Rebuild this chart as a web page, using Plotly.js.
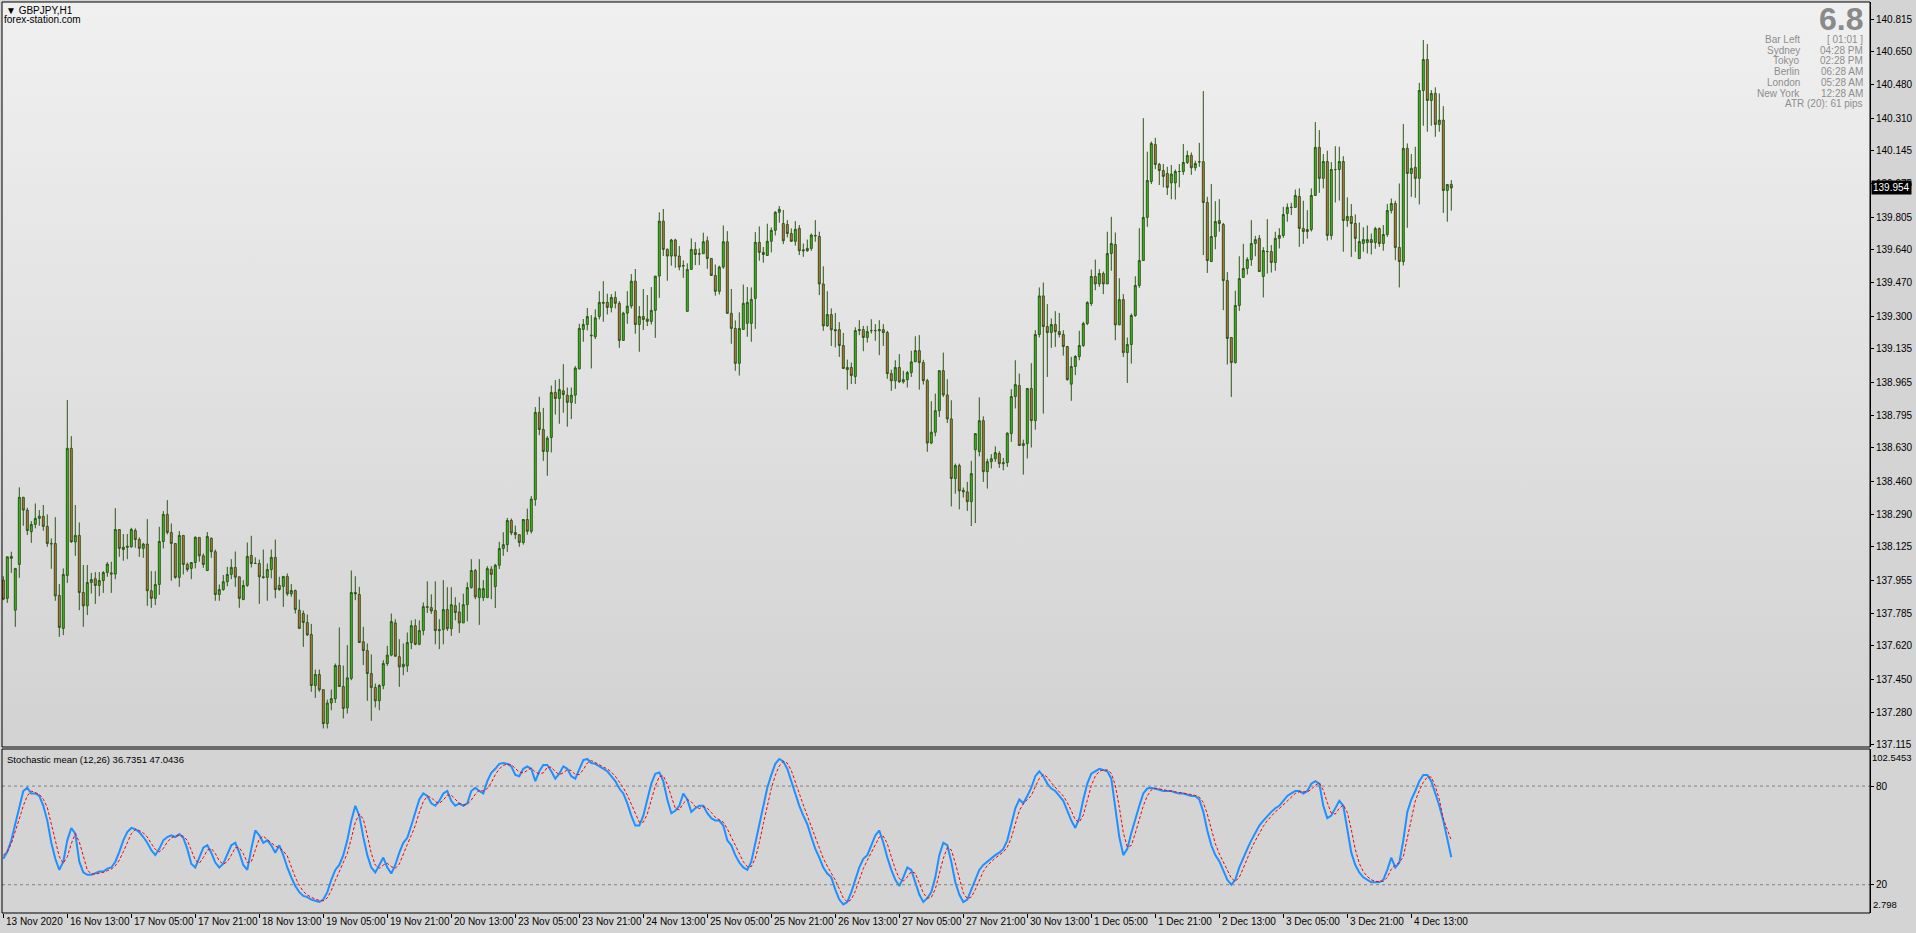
<!DOCTYPE html>
<html>
<head>
<meta charset="utf-8">
<script src="https://cdn.plot.ly/plotly-3.0.1.min.js"></script>
<style>
html,body{margin:0;padding:0;background:#d4d4d4;width:1916px;height:933px;overflow:hidden;}
#bg{position:absolute;left:2px;top:2px;width:1868px;height:745px;background:linear-gradient(#f0f0f0,#d2d2d2);}
#chart{position:absolute;left:0;top:0;width:1916px;height:933px;}
</style>
</head>
<body>
<div id="bg"></div>
<div id="chart"></div>
<script>
// ---- data (GBPJPY H1, one value per bar) ----
const opens = [
137.955,137.862,138.066,137.802,138.035,138.377,138.312,138.202,138.239,138.270,
138.280,138.229,138.142,138.142,137.877,137.709,137.979,138.627,138.150,138.183,
137.892,137.824,137.943,137.962,137.928,137.953,137.994,137.992,137.986,138.213,
138.123,138.122,138.125,138.208,138.162,138.117,138.139,137.901,137.862,137.933,
138.152,138.290,138.198,138.142,137.969,138.183,138.035,138.015,138.045,138.173,
138.079,138.004,138.168,138.100,137.882,137.907,137.947,137.984,138.020,137.972,
137.856,137.928,138.081,138.040,138.040,137.972,137.969,138.009,138.071,137.928,
137.923,137.974,137.885,137.902,137.802,137.785,137.739,137.678,137.418,137.474,
137.397,137.224,137.329,137.351,137.520,137.413,137.304,137.454,137.892,137.882,
137.641,137.596,137.479,137.408,137.340,137.418,137.530,137.573,137.737,137.565,
137.513,137.518,137.637,137.723,137.628,137.698,137.820,137.815,137.800,137.703,
137.703,137.805,137.708,137.825,137.793,137.737,137.830,137.917,138.004,137.866,
137.866,137.866,138.011,137.922,138.031,138.116,138.136,138.259,138.198,138.187,
138.147,138.264,138.204,138.366,138.810,138.723,138.611,138.682,138.912,138.881,
138.920,138.898,138.861,138.898,139.032,139.233,139.258,139.204,139.196,139.299,
139.371,139.371,139.345,139.396,139.366,139.177,139.316,139.352,139.479,139.258,
139.299,139.286,139.274,139.330,139.505,139.785,139.641,139.607,139.689,139.607,
139.556,139.325,139.539,139.641,139.619,139.619,139.685,139.595,139.508,139.427,
139.551,139.680,139.315,139.238,139.060,139.233,139.264,139.264,139.391,139.677,
139.626,139.610,139.682,139.738,139.830,139.773,139.768,139.722,139.682,139.748,
139.639,139.634,139.646,139.712,139.707,139.465,139.251,139.309,139.232,139.232,
139.151,139.039,139.039,138.993,139.227,139.232,139.192,139.227,139.227,139.226,
139.232,139.217,139.008,138.971,139.039,138.966,138.977,139.013,139.068,139.125,
139.064,138.972,138.654,138.709,138.819,139.023,138.899,138.777,138.473,138.539,
138.413,138.405,138.355,138.620,138.610,138.768,138.508,138.559,138.574,138.600,
138.554,138.554,138.702,138.891,138.947,138.641,138.651,138.932,138.768,139.207,
139.404,139.248,139.217,139.258,139.222,139.207,139.146,138.954,139.044,139.095,
139.151,139.263,139.365,139.503,139.465,139.518,139.465,139.620,139.666,139.256,
139.385,139.115,139.156,139.304,139.457,139.584,139.804,139.987,140.176,140.074,
140.043,140.028,139.980,139.980,140.038,140.038,140.084,140.120,140.057,140.086,
140.088,139.880,139.579,139.707,139.788,139.768,139.482,139.192,139.064,139.355,
139.498,139.544,139.589,139.671,139.697,139.503,139.630,139.630,139.574,139.697,
139.712,139.824,139.855,139.855,139.911,139.748,139.742,139.742,139.916,140.161,
140.003,140.089,139.712,140.048,140.048,140.089,139.788,139.809,139.773,139.594,
139.671,139.676,139.691,139.676,139.747,139.671,139.717,139.839,139.875,139.651,
139.579,140.156,140.028,140.059,140.003,140.451,140.609,140.400,140.436,140.278,
140.300,139.941,139.972];
const highs = [
137.975,138.074,138.100,138.015,138.428,138.380,138.324,138.256,138.346,138.312,
138.338,138.290,138.168,138.276,137.935,138.015,138.873,138.689,138.338,138.249,
138.032,138.032,137.992,137.996,137.996,138.001,138.047,138.049,138.322,138.213,
138.190,138.190,138.222,138.219,138.173,138.145,138.266,138.001,138.001,138.227,
138.307,138.363,138.244,138.142,138.205,138.183,138.045,138.045,138.179,138.173,
138.091,138.200,138.173,138.111,137.933,137.981,138.023,138.062,138.101,137.972,
137.955,138.147,138.181,138.071,138.060,138.111,138.040,138.111,138.162,137.972,
137.974,137.989,137.935,137.907,137.856,137.800,137.780,137.732,137.499,137.499,
137.397,137.346,137.397,137.530,137.714,137.520,137.624,138.004,137.975,137.921,
137.717,137.632,137.576,137.428,137.425,137.547,137.620,137.785,137.756,137.654,
137.632,137.688,137.750,137.756,137.750,137.841,137.949,137.883,137.949,137.756,
137.955,137.919,137.919,137.868,137.841,137.886,137.944,138.062,138.012,138.062,
137.955,138.026,138.026,138.038,138.150,138.199,138.272,138.269,138.233,138.187,
138.264,138.320,138.383,138.837,138.890,138.833,138.689,138.947,138.975,138.981,
139.056,138.937,138.937,139.046,139.262,139.286,139.342,139.306,139.335,139.428,
139.479,139.415,139.413,139.427,139.377,139.323,139.428,139.515,139.541,139.352,
139.439,139.408,139.449,139.505,139.830,139.847,139.646,139.695,139.695,139.658,
139.585,139.570,139.697,139.678,139.646,139.726,139.707,139.595,139.564,139.558,
139.763,139.734,139.439,139.279,139.320,139.462,139.449,139.447,139.729,139.758,
139.653,139.772,139.753,139.836,139.862,139.842,139.790,139.748,139.785,139.765,
139.671,139.691,139.722,139.790,139.731,139.555,139.428,139.340,139.317,139.270,
139.215,139.079,139.064,139.244,139.280,139.251,139.251,139.285,139.260,139.280,
139.260,139.226,139.028,139.076,139.107,139.022,139.022,139.124,139.198,139.204,
139.078,138.981,138.867,138.906,139.023,139.115,138.979,138.872,138.549,138.549,
138.427,138.456,138.563,138.702,138.887,138.790,138.574,138.597,138.637,138.612,
138.578,138.709,138.928,139.076,139.008,138.671,138.932,139.061,139.229,139.447,
139.472,139.362,139.289,139.326,139.317,139.229,139.149,139.093,139.102,139.226,
139.272,139.377,139.538,139.589,139.540,139.528,139.731,139.807,139.727,139.494,
139.413,139.192,139.314,139.504,139.749,140.310,140.139,140.191,140.210,140.082,
140.076,140.062,140.071,140.048,140.076,140.178,140.144,140.135,140.093,140.184,
140.448,139.909,139.974,139.887,139.897,139.776,139.525,139.192,139.430,139.606,
139.669,139.601,139.790,139.710,139.714,139.652,139.795,139.663,139.731,139.749,
139.858,139.875,139.878,139.946,139.952,139.889,139.841,139.952,140.290,140.249,
140.127,140.144,140.086,140.167,140.164,140.116,139.906,139.872,139.819,139.778,
139.754,139.763,139.722,139.756,139.753,139.765,139.872,139.900,139.889,139.977,
140.280,140.181,140.127,140.164,140.490,140.708,140.688,140.453,140.467,140.436,
140.371,139.972,139.994];
const lows = [
137.853,137.839,137.992,137.717,137.967,138.232,138.185,138.145,138.219,138.232,
138.207,138.125,138.013,137.850,137.666,137.675,137.941,138.145,138.079,137.802,
137.717,137.777,137.887,137.834,137.873,137.890,137.972,137.890,137.960,138.074,
138.054,138.062,138.120,138.120,138.074,138.069,137.824,137.814,137.828,137.880,
138.117,138.188,137.952,137.962,137.921,137.984,137.998,137.960,138.015,138.049,
138.018,138.001,138.069,137.850,137.850,137.901,137.924,137.960,137.921,137.814,
137.853,137.921,138.020,138.037,137.834,137.962,137.850,137.964,137.863,137.901,
137.819,137.875,137.870,137.785,137.709,137.615,137.671,137.386,137.355,137.386,
137.199,137.199,137.292,137.329,137.411,137.250,137.275,137.445,137.853,137.637,
137.522,137.340,137.238,137.306,137.292,137.399,137.518,137.567,137.567,137.411,
137.470,137.487,137.603,137.623,137.623,137.674,137.788,137.783,137.628,137.603,
137.628,137.696,137.671,137.750,137.686,137.737,137.745,137.912,137.858,137.727,
137.849,137.866,137.858,137.813,138.012,138.079,138.099,138.184,138.164,138.125,
138.136,138.187,138.193,138.334,138.694,138.563,138.487,138.606,138.799,138.752,
138.808,138.737,138.776,138.854,139.029,139.170,139.228,139.034,139.184,139.284,
139.272,139.309,139.320,139.340,139.139,139.177,139.262,139.340,139.211,139.119,
139.230,139.250,139.258,139.190,139.394,139.607,139.481,139.558,139.547,139.534,
139.496,139.325,139.539,139.561,139.561,139.619,139.542,139.508,139.405,139.411,
139.542,139.313,139.160,139.022,138.998,139.233,139.196,139.170,139.236,139.583,
139.573,139.610,139.626,139.712,139.777,139.668,139.702,139.680,139.660,139.612,
139.603,139.629,139.634,139.680,139.408,139.226,139.246,139.148,139.141,139.093,
139.032,138.926,138.955,138.955,139.204,139.122,139.166,139.212,139.175,139.102,
139.149,138.981,138.920,138.930,138.960,138.957,138.937,138.991,139.068,138.926,
138.952,138.609,138.648,138.688,138.787,138.889,138.756,138.331,138.396,138.316,
138.376,138.308,138.231,138.246,138.586,138.456,138.422,138.524,138.558,138.527,
138.515,138.532,138.660,138.830,138.641,138.493,138.575,138.631,138.722,139.192,
138.804,138.991,139.139,139.144,139.192,139.100,138.972,138.869,139.000,139.076,
139.144,139.255,139.353,139.433,139.450,139.413,139.465,139.532,139.178,139.256,
139.093,138.960,139.059,139.297,139.445,139.584,139.756,139.974,140.050,139.969,
139.957,139.918,139.897,139.895,139.957,140.021,140.076,140.021,140.042,140.062,
139.612,139.521,139.579,139.642,139.731,139.331,139.054,138.889,139.059,139.328,
139.498,139.513,139.557,139.606,139.528,139.396,139.518,139.523,139.532,139.646,
139.700,139.782,139.816,139.855,139.654,139.669,139.696,139.732,139.914,139.929,
139.952,139.686,139.691,139.880,139.890,139.629,139.756,139.603,139.629,139.594,
139.629,139.620,139.615,139.644,139.654,139.634,139.705,139.824,139.586,139.447,
139.559,139.751,139.909,139.904,139.870,140.271,140.241,140.271,140.215,140.241,
139.827,139.782,139.838];
const closes = [
137.858,138.074,138.076,138.015,138.377,138.312,138.208,138.239,138.270,138.281,
138.229,138.142,138.140,137.875,137.714,137.984,138.627,138.150,138.183,137.892,
137.824,137.943,137.958,137.928,137.953,137.994,138.037,137.986,138.213,138.117,
138.111,138.128,138.213,138.162,138.117,138.139,137.901,137.862,137.933,138.152,
138.290,138.198,138.142,137.969,138.183,138.035,138.009,138.045,138.173,138.079,
138.035,138.178,138.100,137.882,137.907,137.947,137.984,138.020,137.970,137.862,
137.928,138.076,138.040,138.040,137.972,137.969,138.009,138.071,137.907,137.907,
137.974,137.885,137.902,137.805,137.709,137.739,137.676,137.418,137.474,137.396,
137.224,137.329,137.351,137.520,137.413,137.301,137.457,137.892,137.885,137.637,
137.596,137.479,137.408,137.340,137.418,137.530,137.573,137.744,137.567,137.513,
137.526,137.637,137.723,137.628,137.698,137.820,137.817,137.798,137.698,137.698,
137.805,137.708,137.830,137.790,137.737,137.830,137.917,138.004,137.870,137.912,
137.912,138.014,137.984,138.031,138.116,138.136,138.259,138.196,138.187,138.147,
138.264,138.204,138.368,138.810,138.723,138.611,138.679,138.912,138.881,138.927,
138.901,138.861,138.898,139.036,139.238,139.258,139.299,139.201,139.292,139.371,
139.367,139.345,139.396,139.366,139.177,139.316,139.352,139.479,139.258,139.299,
139.284,139.274,139.330,139.505,139.785,139.641,139.607,139.689,139.607,139.551,
139.558,139.539,139.641,139.615,139.617,139.680,139.595,139.508,139.427,139.551,
139.680,139.315,139.238,139.060,139.238,139.366,139.371,139.386,139.677,139.626,
139.615,139.682,139.738,139.830,139.845,139.685,139.722,139.682,139.743,139.634,
139.634,139.646,139.714,139.710,139.465,139.251,139.309,139.231,139.226,139.151,
139.034,139.028,138.998,139.227,139.232,139.192,139.222,139.227,139.227,139.232,
139.217,139.008,138.971,139.039,138.966,138.977,139.013,139.068,139.125,139.064,
138.972,138.654,138.709,138.819,139.023,138.899,138.777,138.473,138.539,138.410,
138.405,138.355,138.498,138.702,138.768,138.508,138.559,138.574,138.605,138.549,
138.549,138.704,138.891,138.952,138.641,138.651,138.932,138.768,139.207,139.404,
139.248,139.217,139.258,139.222,139.207,139.146,138.977,139.044,139.095,139.151,
139.263,139.370,139.503,139.465,139.518,139.465,139.620,139.671,139.256,139.385,
139.115,139.156,139.304,139.457,139.584,139.804,139.992,140.181,140.074,140.043,
140.013,139.957,140.025,140.038,140.038,140.084,140.120,140.057,140.079,140.088,
139.880,139.584,139.707,139.783,139.773,139.482,139.187,139.064,139.355,139.492,
139.544,139.589,139.671,139.691,139.528,139.635,139.630,139.574,139.697,139.712,
139.819,139.855,139.855,139.916,139.748,139.732,139.732,139.916,140.161,140.003,
140.089,139.712,140.048,140.048,140.089,139.788,139.809,139.773,139.697,139.681,
139.691,139.691,139.676,139.747,139.671,139.717,139.839,139.875,139.651,139.579,
140.156,140.028,140.054,140.003,140.451,140.609,140.400,140.436,140.278,140.300,
139.941,139.972,139.954];

// Stochastic mean (12,26): one value per bar, main line and signal line
const stochMain = [
35.8,40,47,57,68,77,79,75.5,75.5,74,
68,59,45.5,35.8,29,34,47,54.5,51,34,
27.5,26,26,26.8,28,28,29.8,30.5,34,40,
47,52,54.5,53.8,52,49,45.5,41,38,41.8,
47,49,50,49,50.8,48.5,41.8,32.8,30.5,36.5,
42.5,44,39.5,33.5,30.5,32.8,38,44,45.5,39.5,
32,29,41.8,53,50,45.5,47,44,39.5,44,
38,30.5,24.5,19.2,15.5,13.2,12.5,11,10.2,9.5,
11,15.5,23,29,32,38,47,59,68,62,
49,38,30.5,27.5,32,36.5,30.5,26.8,32,39.5,
45.5,48.5,56,64,71.8,75.5,74,69.5,68,71,
75.5,77,71,68,69.5,68,69.5,77,79,77,
75.5,83,88,90.5,93.5,94,93.5,92,86.8,86,
90.5,92,90.5,83,89,92.8,92.8,89,84.5,87.5,
92,90.5,86,84.5,90.5,95.8,96.5,94,93.5,92,
90.5,89,86,83,78.5,75.5,69.5,62,56,56,
62,71,81.5,87.5,88.3,83,71.8,63.5,65,68,
75.5,71.8,64.3,66.5,68,68,63.5,60.5,59,59,
56,47,44,38,33.5,30.5,29,34,45.5,56.8,
69.5,79,86.8,93.5,96.5,95,90.5,83,75.5,68,
62,56.8,49,41.8,36.5,30.5,26.8,24.5,17,11,
8,9.5,15.5,23,30.5,35.8,38,44,50,53,
45.5,36.5,29,23,19.2,24.5,30.5,29,21.5,14,
9.5,11.8,15.5,24.5,38,45.5,44,34,21.5,14,
9.5,11,17,23,29,32,34,36.5,38,39.5,
41.8,47,56.8,66.5,71.8,69.5,74,79,86,89,
86,81.5,78.5,77,74,71,65,59,54.5,60.5,
71.8,81.5,87.5,89,90.5,89.8,89,84.5,68,49,
38,41.8,51.5,60.5,68,75.5,78.5,79,78.5,77.8,
77,77,77,76,75.5,75.5,74.8,74,74,71.8,
64.3,53,44,38,34.3,29,23,20,23,30.5,
36.5,41.8,47,51.5,56,59,62,64.3,66.5,68,
71,74,75.5,77,77,75.5,77,81.5,83,81.5,
68,60.5,62,66.5,71,68,53,39.5,32,27.5,
24.5,23,21.5,21.5,21.5,23,29,36.5,30.5,33.5,
47,64.3,71.8,77,83,86.8,86.8,83,75.5,68,
59,47,36.7351];
const stochSignal = [
38,40,45,52,60,68,74,77,76,75,
72,67,57,46,37,33,37,45,51,46,
37,29,26.5,26.5,27,27.5,28.5,29.5,31.5,35,
40,46,51,53.5,53,51.5,49,45,41.5,40,
42,46,48.5,49.5,50,49.5,47,41,35,33,
36.5,41,42,39,34.5,32.5,34,38,42.5,42.5,
39,33.5,34,41,48,49.5,47.5,45.5,43.5,42.5,
40.5,37.5,31,24.5,19.5,16,13.7,12.2,11.2,10.5,
10.2,12,16.5,22.5,28,33,39,48,58,63,
60,50,39,32,30,32,33,31,30,32.5,
39,44.5,50,56,64,70.5,73.8,73,70.5,69.5,
71.5,74.5,74.5,72,69.5,68.5,69,71.5,75,77.5,
77,78.5,82,87,90.5,92.5,93.5,93,91,88.5,
88,89.5,91,88.5,87.5,88,91.5,91.5,88.8,87,
88,90,89.5,87,87,90,94,95.5,94.5,93,
91.5,90.5,88.5,86,82.5,79,74.5,69,62.5,58,
58,63,71.5,80,85.8,86.3,81,73,66.5,65.5,
69.5,71.8,70.5,67.5,66.3,67.5,66.5,64,61,59.5,
58,54,49,43,38.5,34,31,31,36,45.5,
57,68.5,78.5,86.5,92.3,95,94,89.5,83,75.5,
68.5,62,56,49,42.5,36,31.3,27.3,22.8,17.5,
12,9.5,11,16,23,29.8,34.8,39.3,44,49,
49.5,45,37,29.5,23.7,22.2,24.7,28,27,21.5,
15,11.8,12.3,17.3,26,36,42.5,41.2,33.2,23.2,
15,11.5,12.5,17,23,28,31.7,34.2,36.2,38,
39.8,42.8,48.5,56.8,65,69.3,71.8,74.2,79.7,84.7,
87,85.5,82,79,76.5,74,70,65,59.5,58,
62.3,71.3,80.3,86,89,89.8,89.8,87.8,80.5,67.2,
51.7,43,43.8,51.3,60,68,74,77.7,78.7,78.4,
77.8,77.3,77,76.7,76.2,75.7,75.3,74.8,74.3,73.3,
70,63,53.8,45,38.8,33.8,28.8,24,22,24.5,
30,36.3,41.8,46.8,51.5,55.5,59,61.8,64.3,66.3,
68.5,71,73.5,75.5,76.5,76.5,76.5,78,80.5,82,
77.5,70,63.5,63,66.5,68.5,64,53.5,41.5,33,
28,25,23,22,22,22,24.5,29.5,32,33.5,
37,48,61,71,77.3,82.3,85.5,85.5,80,72,
60,53,47.0436];

const priceTicks = [137.115,137.280,137.450,137.620,137.785,137.955,138.125,138.290,138.460,138.630,138.795,138.965,139.135,139.300,139.470,139.640,139.805,139.975,140.145,140.310,140.480,140.650,140.815];
const timeTickIdx = [0,16,32,48,64,80,96,112,128,144,160,176,192,208,224,240,256,272,288,304,320,336,352];
const timeTickText = ["13 Nov 2020","16 Nov 13:00","17 Nov 05:00","17 Nov 21:00","18 Nov 13:00","19 Nov 05:00","19 Nov 21:00","20 Nov 13:00","23 Nov 05:00","23 Nov 21:00","24 Nov 13:00","25 Nov 05:00","25 Nov 21:00","26 Nov 13:00","27 Nov 05:00","27 Nov 21:00","30 Nov 13:00","1 Dec 05:00","1 Dec 21:00","2 Dec 13:00","3 Dec 05:00","3 Dec 21:00","4 Dec 13:00"];
const infoLabels = ["Bar Left","Sydney","Tokyo","Berlin","London","New York"];
const infoValues = ["[ 01:01 ]","04:28 PM","02:28 PM","06:28 AM","05:28 AM","12:28 AM"];
const symbolText = "GBPJPY,H1";
const spreadText = "6.8";
const atrText = "ATR (20): 61 pips";
const lastPrice = 139.954;
const stochMax = 102.5453, stochMin = 2.798;

// ---- build ----
const xIdx = closes.map((_, i) => i);
const FONT = "Liberation Sans, Arial, sans-serif";
const WICK = "#2b5716";

const traces = [
  {
    type: "candlestick", x: xIdx, open: opens, high: highs, low: lows, close: closes,
    xaxis: "x", yaxis: "y", whiskerwidth: 0,
    increasing: {line: {color: WICK, width: 1}, fillcolor: "#3cc21c"},
    decreasing: {line: {color: WICK, width: 1}, fillcolor: "#d4704a"},
    hoverinfo: "skip", showlegend: false
  },
  {
    type: "scatter", mode: "lines", x: xIdx, y: stochMain, xaxis: "x", yaxis: "y2",
    line: {color: "#1e90ff", width: 2}, hoverinfo: "skip", showlegend: false
  },
  {
    type: "scatter", mode: "lines", x: xIdx, y: stochSignal, xaxis: "x", yaxis: "y2",
    line: {color: "#ff0000", width: 1, dash: "3px,2px"}, hoverinfo: "skip", showlegend: false
  }
];

const H = 933, T = 2, B = 20;
const plotH = H - T - B;             // 911
const mainBottomPx = 747, stochTopPx = 749;
const mainDomLo = (H - B - mainBottomPx) / plotH;
const stochDomHi = (H - B - stochTopPx) / plotH;

const annotations = [];
const txt = (o) => annotations.push(Object.assign({showarrow: false, xref: "paper", yref: "paper"}, o));

txt({x: 0, y: 1, xanchor: "left", yanchor: "top", xshift: 2, yshift: -1,
     text: "▼ " + symbolText, font: {family: FONT, size: 10, color: "#000"}});
txt({x: 0, y: 1, xanchor: "left", yanchor: "top", xshift: 0, yshift: -10,
     text: "forex-station.com", font: {family: FONT, size: 10, color: "#000"}});
txt({x: 1, y: 1, xanchor: "right", yanchor: "top", xshift: -5, yshift: 3,
     text: "<b>" + spreadText + "</b>", font: {family: FONT, size: 32, color: "#8a8a8a"}});
infoLabels.forEach((lab, k) => {
  const ys = -(37.5 + k * 10.7);
  txt({x: 1, y: 1, xanchor: "right", yanchor: "middle", xshift: -68, yshift: ys,
       text: lab, font: {family: FONT, size: 10, color: "#8e8e8e"}});
  txt({x: 1, y: 1, xanchor: "right", yanchor: "middle", xshift: -5, yshift: ys,
       text: infoValues[k], font: {family: FONT, size: 10, color: "#8e8e8e"}});
});
txt({x: 1, y: 1, xanchor: "right", yanchor: "middle", xshift: -5, yshift: -(37.5 + 6 * 10.7),
     text: atrText, font: {family: FONT, size: 10, color: "#8e8e8e"}});
txt({x: 0, y: stochDomHi, xanchor: "left", yanchor: "top", xshift: 3, yshift: -3,
     text: "Stochastic mean (12,26) " + stochMain[stochMain.length - 1].toFixed(4) + " " + stochSignal[stochSignal.length - 1].toFixed(4),
     font: {family: FONT, size: 9.5, color: "#000"}});
txt({x: 1, y: stochDomHi, xanchor: "left", yanchor: "top", xshift: 0, yshift: -1,
     text: String(stochMax), font: {family: FONT, size: 9.5, color: "#000"}});
txt({x: 1, y: 0, xanchor: "left", yanchor: "bottom", xshift: 1, yshift: 1,
     text: String(stochMin), font: {family: FONT, size: 9.5, color: "#000"}});
// current price box
annotations.push({showarrow: false, xref: "paper", yref: "y", x: 1, y: lastPrice, xanchor: "left", yanchor: "middle",
  xshift: 1, text: lastPrice.toFixed(3), bgcolor: "#000", borderpad: 1,
  font: {family: FONT, size: 10, color: "#fff"}});
// time labels
timeTickIdx.forEach((ix, k) => {
  annotations.push({showarrow: false, xref: "x", yref: "paper", x: ix, y: 0, xanchor: "left", yanchor: "top",
    xshift: 1, yshift: -1, text: timeTickText[k], font: {family: FONT, size: 10, color: "#000"}});
});

const shapes = [
  {type: "line", xref: "paper", yref: "y2", x0: 0, x1: 1, y0: 80, y1: 80, line: {color: "#808080", width: 1, dash: "3px,3px"}},
  {type: "line", xref: "paper", yref: "y2", x0: 0, x1: 1, y0: 20, y1: 20, line: {color: "#808080", width: 1, dash: "3px,3px"}},
  {type: "rect", xref: "paper", yref: "paper", x0: 0, x1: 1, y0: mainDomLo, y1: 1, line: {color: "#000", width: 1}, fillcolor: "rgba(0,0,0,0)"},
  {type: "rect", xref: "paper", yref: "paper", x0: 0, x1: 1, y0: 0, y1: stochDomHi, line: {color: "#000", width: 1}, fillcolor: "rgba(0,0,0,0)"}
];

const layout = {
  width: 1916, height: 933,
  margin: {l: 2, r: 46, t: T, b: B, pad: 0},
  paper_bgcolor: "rgba(0,0,0,0)", plot_bgcolor: "rgba(0,0,0,0)",
  showlegend: false,
  xaxis: {
    range: [-0.325, 466.675], anchor: "y2", domain: [0, 1],
    showgrid: false, zeroline: false, showline: false,
    tickmode: "array", tickvals: timeTickIdx, ticks: "outside", ticklen: 4, tickcolor: "#000",
    showticklabels: false, rangeslider: {visible: false}, fixedrange: true
  },
  yaxis: {
    domain: [mainDomLo, 1], range: [137.1045, 140.902], side: "right", anchor: "x",
    showgrid: false, zeroline: false, showline: true, linecolor: "#000", linewidth: 1,
    tickmode: "array", tickvals: priceTicks, ticktext: priceTicks.map(v => v.toFixed(3)),
    ticks: "outside", ticklen: 3, tickcolor: "#000",
    tickfont: {family: FONT, size: 10, color: "#000"}, fixedrange: true
  },
  yaxis2: {
    domain: [0, stochDomHi], range: [stochMin, stochMax], side: "right", anchor: "x",
    showgrid: false, zeroline: false, showline: true, linecolor: "#000", linewidth: 1,
    tickmode: "array", tickvals: [20, 80], ticktext: ["20", "80"],
    ticks: "outside", ticklen: 3, tickcolor: "#000",
    tickfont: {family: FONT, size: 10, color: "#000"}, fixedrange: true
  },
  annotations: annotations,
  shapes: shapes
};

Plotly.newPlot("chart", traces, layout, {staticPlot: true, displayModeBar: false});
</script>
</body>
</html>
